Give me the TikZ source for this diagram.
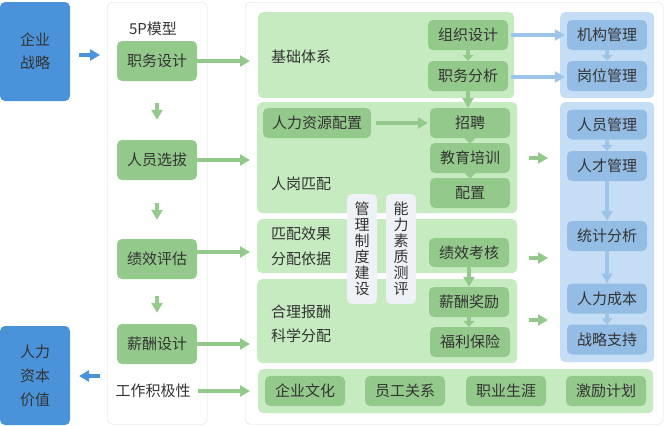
\documentclass[tikz,border=0pt]{standalone}
\usepackage{fontspec}
\setmainfont{Noto Sans CJK SC}
\usetikzlibrary{arrows.meta}
\definecolor{stratblue}{HTML}{4A93DA}
\definecolor{midgreen}{HTML}{93C98A}
\definecolor{palegreen}{HTML}{C7EBC1}
\definecolor{paleblue}{HTML}{C5DEF5}
\definecolor{midblue}{HTML}{93BDE5}
\definecolor{arrowblue}{HTML}{9CC3E8}
\definecolor{paperblue}{HTML}{EEF1F5}
\definecolor{framegray}{HTML}{DDDDDD}
\definecolor{txtgray}{HTML}{333333}
\tikzset{
	every node/.style={font=\fontsize{15}{18}\selectfont, text=txtgray, inner sep=0pt},
	frame/.style={draw=framegray, fill=white, rounded corners=5pt, anchor=north west},
	gpanel/.style={fill=palegreen, rounded corners=5pt, anchor=north west},
	bpanel/.style={fill=paleblue, rounded corners=5pt, anchor=north west},
	strat/.style={fill=stratblue, rounded corners=5pt, minimum width=70pt, align=center},
	colbox/.style={fill=midgreen, rounded corners=5pt, minimum width=80pt, minimum height=40pt},
	gbox/.style={fill=midgreen, rounded corners=5pt, minimum width=80pt, minimum height=30pt},
	bbox/.style={fill=midblue, rounded corners=5pt, minimum width=80pt, minimum height=30pt},
	vbox/.style={fill=paperblue, rounded corners=5pt, minimum width=30pt, minimum height=110pt, align=center, font=\fontsize{15}{16}\selectfont},
	ptext/.style={anchor=west, align=left, font=\fontsize{15}{24.5}\selectfont},
	garrow/.style={draw=midgreen, line width=4pt, -{Triangle[length=10pt,width=11pt]}},
	gtip/.style={draw=midgreen, line width=4pt, -{Triangle[length=6pt,width=11pt]}},
	barrow/.style={draw=stratblue, line width=4pt, -{Triangle[length=10pt,width=11pt]}},
	larrow/.style={draw=arrowblue, line width=4pt, -{Triangle[length=10pt,width=11pt]}},
	ltip/.style={draw=arrowblue, line width=4pt, -{Triangle[length=6pt,width=11pt]}},
}
\begin{document}
\begin{tikzpicture}[x=1pt,y=-1pt]
	\useasboundingbox (0,0) rectangle (665,426);
	% strategy and value
	\node[strat, minimum height=99pt, font=\fontsize{15}{23}\selectfont] (qyzl) at (35,51.5) {企业\\战略};
	\node[strat, minimum height=99pt, font=\fontsize{15}{24}\selectfont] (rlzb) at (35,375.5) {人力\\资本\\价值};
	% 5P column
	\node[frame, minimum width=100pt, minimum height=422pt] (col) at (107,2) {};
	\node (wxmx) at (153,29) {5P模型};
	\node[colbox] (zwsj) at (157,61) {职务设计};
	\node[colbox] (ryxb) at (157,160) {人员选拔};
	\node[colbox] (jxpg) at (157,259) {绩效评估};
	\node[colbox] (xcsj) at (157,344) {薪酬设计};
	\node (gzjj) at (153,391) {工作积极性};
	% main frame
	\node[frame, minimum width=418pt, minimum height=422pt] (main) at (245,2) {};
	\node[gpanel, minimum width=256pt, minimum height=86pt] (jctx) at (258,12) {};
	\node[gpanel, minimum width=260pt, minimum height=111pt] (rgpp) at (257,102) {};
	\node[gpanel, minimum width=260pt, minimum height=54pt] (ppxg) at (257,219) {};
	\node[gpanel, minimum width=260pt, minimum height=84pt] (hlbc) at (257,279) {};
	\node[gpanel, minimum width=395pt, minimum height=44pt] (whtx) at (258,369) {};
	\node[bpanel, minimum width=94pt, minimum height=86pt] (jggz) at (560,12) {};
	\node[bpanel, minimum width=94pt, minimum height=260pt] (rygz) at (560,102) {};
	% panel texts
	\node[ptext] (jctxt) at (271,57) {基础体系};
	\node[ptext] (rgppt) at (271,184) {人岗匹配};
	\node[ptext] (ppxgt) at (271,246.5) {匹配效果\\分配依据};
	\node[ptext] (hlbct) at (271,324) {合理报酬\\科学分配};
	% green boxes
	\node[gbox] (zzsj) at (468,35) {组织设计};
	\node[gbox] (zwfx) at (468,76) {职务分析};
	\node[gbox, minimum width=108pt] (rlpz) at (317,123) {人力资源配置};
	\node[gbox] (zp) at (470,123) {招聘};
	\node[gbox] (jypx) at (470,158) {教育培训};
	\node[gbox] (pz) at (470,193) {配置};
	\node[gbox, minimum height=29pt] (jxkh) at (469,252.5) {绩效考核};
	\node[gbox] (xcjl) at (469,302) {薪酬奖励};
	\node[gbox] (flbx) at (470,342) {福利保险};
	\node[vbox] (glzd) at (362,249) {管\\理\\制\\度\\建\\设};
	\node[vbox] (nlsz) at (401,249) {能\\力\\素\\质\\测\\评};
	% culture row
	\node[gbox] (qywh) at (305,391) {企业文化};
	\node[gbox] (yggx) at (405,391) {员工关系};
	\node[gbox] (zysy) at (506,391) {职业生涯};
	\node[gbox] (jljh) at (606,391) {激励计划};
	% blue boxes
	\node[bbox] (jggl) at (607,35) {机构管理};
	\node[bbox] (gwgl) at (607,76) {岗位管理};
	\node[bbox] (rygl) at (607,124.5) {人员管理};
	\node[bbox] (rcgl) at (607,166) {人才管理};
	\node[bbox] (tjfx) at (607,236) {统计分析};
	\node[bbox] (rlcb) at (607,298.5) {人力成本};
	\node[bbox] (zlzc) at (607,339.5) {战略支持};
	% free arrow ends
	\coordinate (in1) at (79,55);
	\coordinate (in2) at (100,55);
	\coordinate (out1) at (100,376);
	\coordinate (out2) at (79,376);
	\coordinate (m1) at (529,158);
	\coordinate (m2) at (548,158);
	\coordinate (m3) at (529,258);
	\coordinate (m4) at (548,258);
	\coordinate (m5) at (529,320);
	\coordinate (m6) at (548,320);
	% connectors
	\draw[barrow] (in1) to (in2);
	\draw[barrow] (out1) to (out2);
	\draw[garrow, shorten <=22pt, shorten >=20pt] (zwsj) to (ryxb);
	\draw[garrow, shorten <=23pt, shorten >=19pt] (ryxb) to (jxpg);
	\draw[garrow, shorten <=17pt, shorten >=11pt] (jxpg) to (xcsj);
	\draw[garrow, shorten >=-5pt] (zwsj.east) to (zwsj.east -| main.west);
	\draw[garrow, shorten >=-5pt] (ryxb.east) to (ryxb.east -| main.west);
	\draw[garrow, shorten >=-5pt] ([yshift=7pt]jxpg.east) to ([yshift=7pt]jxpg.east -| main.west);
	\draw[garrow, shorten >=-5pt] (xcsj.east) to (xcsj.east -| main.west);
	\draw[garrow, shorten <=7pt, shorten >=-5pt] (gzjj.east) to (gzjj.east -| main.west);
	\draw[gtip] (zzsj) to (zwfx);
	\draw[garrow] (zwfx.south) to (zwfx.south |- zp.north);
	\draw[garrow, shorten <=5pt, shorten >=2pt] (rlpz) to (zp);
	\draw[gtip, shorten >=-1pt] (zp) to (jypx);
	\draw[gtip, shorten >=-1pt] (jypx) to (pz);
	\draw[garrow] (jxkh.south) to (jxkh.south |- xcjl.north);
	\draw[gtip] (xcjl.south) to (xcjl.south |- flbx.north);
	\draw[larrow, shorten <=3pt, shorten >=2pt] (zzsj) to (jggl);
	\draw[larrow, shorten <=3pt, shorten >=2pt] ([yshift=-1pt]zwfx.east) to ([yshift=-1pt]gwgl.west);
	\draw[ltip] (jggl) to (gwgl);
	\draw[ltip] (rygl) to (rcgl);
	\draw[larrow] (rcgl) to (tjfx);
	\draw[larrow] (tjfx) to (rlcb);
	\draw[ltip] (rlcb) to (zlzc);
	\draw[garrow] (m1) to (m2);
	\draw[garrow] (m3) to (m4);
	\draw[garrow] (m5) to (m6);
\end{tikzpicture}
\end{document}
